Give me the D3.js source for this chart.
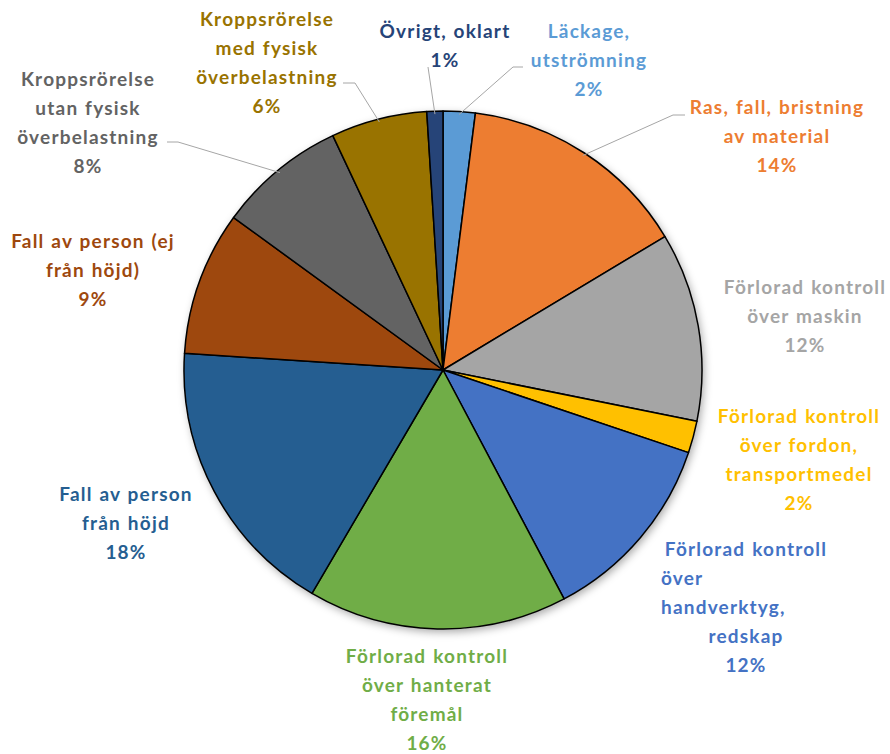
<!DOCTYPE html>
<html lang="sv">
<head>
<meta charset="UTF-8">
<title>Olycksorsaker</title>
<script src="https://d3js.org/d3.v7.min.js"></script>
<style>
  body { margin: 0; background: #fff; }
  #chart text { font-family: Lato, "Open Sans", sans-serif; font-weight: 700; font-size: 19px; letter-spacing: 1.2px; word-spacing: 1px; }
</style>
</head>
<body>
<svg id="chart" width="890" height="754"></svg>
<script>
// data, clockwise from 12 o'clock
const categories = [
  "Läckage,\nutströmning",
  "Ras, fall, bristning\nav material",
  "Förlorad kontroll\növer maskin",
  "Förlorad kontroll\növer fordon,\ntransportmedel",
  "Förlorad kontroll\növer\nhandverktyg,\nredskap",
  "Förlorad kontroll\növer hanterat\nföremål",
  "Fall av person\nfrån höjd",
  "Fall av person (ej\nfrån höjd)",
  "Kroppsrörelse\nutan fysisk\növerbelastning",
  "Kroppsrörelse\nmed fysisk\növerbelastning",
  "Övrigt, oklart"
];
const values = [2.0, 14.4, 11.8, 2.0, 12.1, 16.2, 17.6, 9.0, 8.0, 6.0, 1.0];

const colors = ["#5b9bd5", "#ed7d31", "#a5a5a5", "#ffc000", "#4472c4", "#70ad47",
                "#255e91", "#9e480e", "#636363", "#997300", "#264478"];

// label placement (x = centre, y = middle of first line); lead = leader start, or null
const labelLayout = [
  {x: 589, y: 32, lead: [[523, 67], [513, 67]]},
  {x: 777, y: 108, lead: [[685, 115], [673, 115]]},
  {x: 805, y: 288, lead: null},
  {x: 799, y: 417, lead: null},
  {x: 746, y: 550, lead: null, startAt: {1: 661, 2: 661}},
  {x: 427, y: 657, lead: null},
  {x: 126, y: 495, lead: null},
  {x: 93, y: 242, lead: null},
  {x: 88, y: 80, lead: [[167, 142], [178, 142]]},
  {x: 267, y: 20, lead: [[343, 83], [355, 83]]},
  {x: 445, y: 32, lead: [[428, 67]]}
];

const cx = 443, cy = 370, radius = 259, lineH = 29;

const svg = d3.select("#chart");

const defs = svg.append("defs");
const shadow = defs.append("filter").attr("id", "shadow")
    .attr("x", "-10%").attr("y", "-10%").attr("width", "120%").attr("height", "120%");
shadow.append("feDropShadow")
    .attr("dx", 2).attr("dy", 3).attr("stdDeviation", 4)
    .attr("flood-color", "#000").attr("flood-opacity", 0.35);

const g = svg.append("g").attr("transform", `translate(${cx},${cy})`);

const pie = d3.pie().sort(null).value(d => d)(values);
const arc = d3.arc().innerRadius(0).outerRadius(radius);
const total = d3.sum(values);

// shadow disc behind the slices
g.append("circle").attr("r", radius).attr("fill", "#fff").attr("filter", "url(#shadow)");

g.selectAll("path.slice")
  .data(pie)
  .enter().append("path")
    .attr("class", "slice")
    .attr("d", arc)
    .attr("fill", (d, i) => colors[i])
    .attr("stroke", "#000")
    .attr("stroke-width", 1.5)
    .attr("stroke-linejoin", "round");

// leader lines, ending just inside the rim at the slice's mid angle
pie.forEach((d, i) => {
  const lay = labelLayout[i];
  if (!lay.lead) return;
  const mid = (d.startAngle + d.endAngle) / 2;
  const ex = cx + (radius - 3) * Math.sin(mid);
  const ey = cy - (radius - 3) * Math.cos(mid);
  const pts = lay.lead.concat([[ex, ey]]);
  svg.append("path")
    .attr("d", d3.line()(pts))
    .attr("fill", "none")
    .attr("stroke", "#a6a6a6")
    .attr("stroke-width", 1);
});

// labels
pie.forEach((d, i) => {
  const lay = labelLayout[i];
  const pct = Math.round(d.data / total * 100) + "%";
  const lines = categories[i].split("\n").concat([pct]);
  const t = svg.append("text").attr("fill", colors[i]);
  lines.forEach((ln, k) => {
    const startX = lay.startAt && lay.startAt[k];
    t.append("tspan")
      .attr("x", startX || lay.x)
      .attr("y", lay.y + k * lineH + 6)
      .attr("text-anchor", startX ? "start" : "middle")
      .text(ln);
  });
});
</script>
</body>
</html>
